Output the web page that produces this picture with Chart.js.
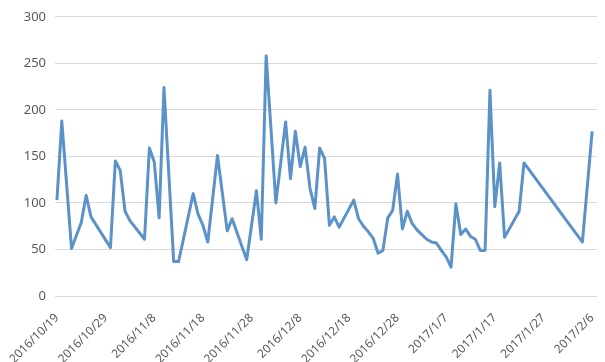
<!DOCTYPE html>
<html>
<head>
<meta charset="utf-8">
<script src="https://cdn.jsdelivr.net/npm/chart.js@4.4.1/dist/chart.umd.min.js"></script>
<style>
    html, body { margin: 0; padding: 0; background: #fff; }
    #wrap { width: 605px; height: 362px; }
</style>
</head>
<body>
<div id="wrap"><canvas id="lineChart" width="605" height="362"></canvas></div>
<script>
// Days counted from 2016/10/19
const days = [0, 1, 3, 5, 6, 7, 11, 12, 13, 14, 15, 18, 19, 20, 21, 22, 24, 25, 28, 29,
    30, 31, 33, 35, 36, 39, 41, 42, 43, 45, 47, 48, 49, 50, 51, 52, 53, 54, 55, 56,
    57, 58, 61, 62, 63, 64, 65, 66, 67, 68, 69, 70, 71, 72, 73, 74, 75, 76, 77, 78,
    79, 80, 81, 82, 83, 84, 85, 86, 87, 88, 89, 90, 91, 92, 95, 96, 108, 110];
const values = [103, 188, 51, 79, 108, 85, 52, 145, 135, 91, 81, 61, 159, 144, 84, 224, 37, 37, 110, 88,
    76, 58, 151, 70, 83, 39, 113, 61, 258, 100, 187, 126, 177, 139, 160, 116, 94, 159, 148, 76,
    85, 74, 103, 83, 75, 69, 62, 46, 49, 84, 92, 131, 72, 91, 78, 71, 66, 61, 58, 57,
    49, 42, 31, 99, 66, 72, 64, 61, 49, 49, 221, 96, 143, 63, 91, 143, 58, 177];
const tickDays = [0, 10, 20, 30, 40, 50, 60, 70, 80, 90, 100, 110];
const tickLabels = ['2016/10/19', '2016/10/29', '2016/11/8', '2016/11/18', '2016/11/28', '2016/12/8',
    '2016/12/18', '2016/12/28', '2017/1/7', '2017/1/17', '2017/1/27', '2017/2/6'];

document.addEventListener('DOMContentLoaded', function () {
    const ctx = document.getElementById('lineChart');
    const points = days.map(function (d, i) { return { x: d, y: values[i] }; });

    new Chart(ctx, {
        type: 'line',
        data: {
            datasets: [{
                data: points,
                borderColor: '#5b92c8',
                borderWidth: 3,
                pointRadius: 0,
                tension: 0,
                borderJoinStyle: 'round',
                fill: false
            }]
        },
        options: {
            responsive: false,
            animation: false,
            layout: { padding: { top: 13, right: 8, left: 0, bottom: 0 } },
            plugins: {
                legend: { display: false },
                tooltip: { enabled: false }
            },
            scales: {
                x: {
                    type: 'linear',
                    min: -0.4,
                    max: 111,
                    afterBuildTicks: function (scale) {
                        scale.ticks = tickDays.map(function (v) { return { value: v }; });
                    },
                    afterFit: function (scale) {
                        scale.height = 66;
                        scale.paddingLeft = 0;
                        scale.paddingRight = 0;
                    },
                    grid: { display: false },
                    border: { display: false },
                    ticks: {
                        autoSkip: false,
                        minRotation: 45,
                        maxRotation: 45,
                        padding: 7,
                        color: '#595959',
                        font: { size: 12, family: "'Noto Sans', sans-serif" },
                        callback: function (value) {
                            const i = tickDays.indexOf(value);
                            return i >= 0 ? tickLabels[i] : '';
                        }
                    }
                },
                y: {
                    min: 0,
                    max: 300,
                    afterFit: function (scale) { scale.width = 55; },
                    grid: { color: '#d9d9d9', lineWidth: 1, drawTicks: false },
                    border: { display: false },
                    ticks: {
                        stepSize: 50,
                        padding: 9,
                        color: '#595959',
                        font: { size: 13, family: "'Noto Sans', sans-serif" }
                    }
                }
            }
        }
    });
});
</script>
</body>
</html>
